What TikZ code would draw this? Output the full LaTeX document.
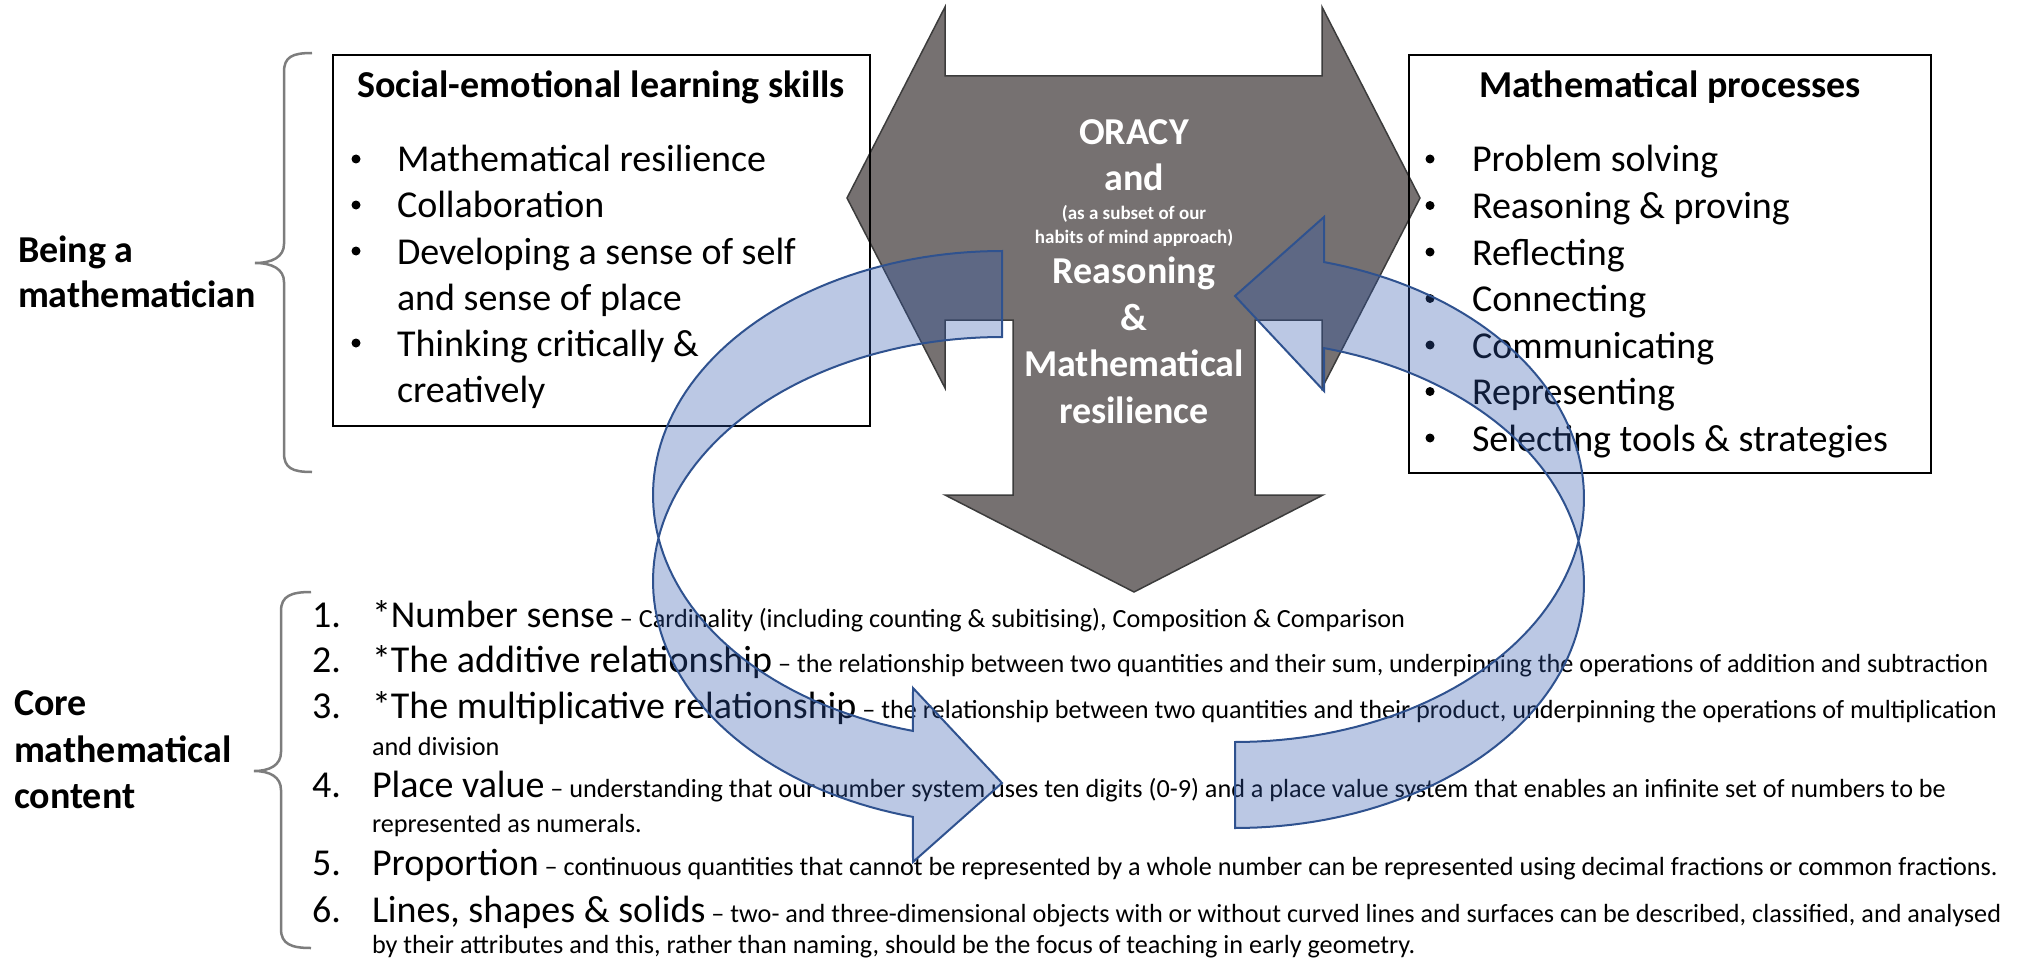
\documentclass[tikz,border=0pt]{standalone}
\usepackage{fontspec}
\setmainfont{Carlito}
\definecolor{arrowgray}{RGB}{118,113,113}
\definecolor{grayedge}{RGB}{60,60,60}
\definecolor{bluefill}{RGB}{48,88,173}
\definecolor{blueline}{RGB}{47,82,143}
\definecolor{bracegray}{RGB}{125,125,125}
\newcommand{\descfont}{\fontsize{26.2}{31}\selectfont}
\begin{document}
\begin{tikzpicture}[x=1pt,y=-1pt,
  big/.style={inner sep=0pt,outer sep=0pt,anchor=base west,font=\fontsize{38}{46}\selectfont},
  bigb/.style={inner sep=0pt,outer sep=0pt,anchor=base west,font=\fontsize{38}{46}\selectfont\bfseries},
  ttl/.style={inner sep=0pt,outer sep=0pt,anchor=base,font=\fontsize{38}{46}\selectfont\bfseries},
  wbig/.style={inner sep=0pt,outer sep=0pt,anchor=base,text=white,font=\fontsize{38}{46}\selectfont\bfseries},
  wsmall/.style={inner sep=0pt,outer sep=0pt,anchor=base,text=white,font=\fontsize{19}{23}\selectfont\bfseries},
  sm/.style={font=\descfont},
  dot/.style={circle,fill=black,inner sep=0pt,minimum size=9pt},
  grayarrow/.style={fill=arrowgray,draw=grayedge,line width=1.5pt,line join=miter},
  bluearrow/.style={fill=bluefill,fill opacity=0.33,draw=blueline,draw opacity=1,line width=2pt,line join=miter},
  framebox/.style={draw=black,line width=1.8pt,inner sep=0pt,outer sep=0pt,anchor=north west},
  brace/.style={draw=bracegray,line width=2.5pt}]
\useasboundingbox (0,0) rectangle (2017,960);

% central three-way arrow
\path[grayarrow] (847,198) -- (945,7) -- (945,76) -- (1322,76) -- (1322,7) -- (1420,198)
  -- (1322,388) -- (1322,320) -- (1255,320) -- (1255,495) -- (1323,495) -- (1134,592)
  -- (945,495) -- (1013,495) -- (1013,320) -- (945,320) -- (945,388) -- cycle;
\node[wbig] (oracy) at (1134,145) {ORACY};
\node[wbig] (and) at (1134,190) {and};
\node[wsmall] (sub1) at (1134,219) {(as a subset of our};
\node[wsmall] (sub2) at (1134,243) {habits of mind approach)};
\node[wbig] (reas) at (1134,283) {Reasoning};
\node[wbig] (amp) at (1134,330) {\&};
\node[wbig] (math) at (1134,376) {Mathematical};
\node[wbig] (resil) at (1134,423) {resilience};

% boxes
\node[framebox,minimum width=537pt,minimum height=371pt] (selbox) at (333,55) {};
\node[framebox,minimum width=522pt,minimum height=418pt] (procbox) at (1409,55) {};

\node[ttl] (seltitle) at (601,98) {Social-emotional learning skills};
\node[dot] (b1) at (356,159) {};
\node[big] (s1) at (397,172) {Mathematical resilience};
\node[dot] (b2) at (356,205) {};
\node[big] (s2) at (397,218) {Collaboration};
\node[dot] (b3) at (356,251) {};
\node[big] (s3) at (397,264) {Developing a sense of self};
\node[big] (s3b) at (397,310) {and sense of place};
\node[dot] (b4) at (356,343) {};
\node[big] (s4) at (397,356) {Thinking critically \&};
\node[big] (s4b) at (397,402) {creatively};

\node[ttl] (proctitle) at (1670,98) {Mathematical processes};
\node[dot] (p1b) at (1430,159) {};
\node[big] (p1) at (1472,172) {Problem solving};
\node[dot] (p2b) at (1430,205.5) {};
\node[big] (p2) at (1472,218.5) {Reasoning \& proving};
\node[dot] (p3b) at (1430,252) {};
\node[big] (p3) at (1472,265) {Reflecting};
\node[dot] (p4b) at (1430,298.5) {};
\node[big] (p4) at (1472,311.5) {Connecting};
\node[dot] (p5b) at (1430,345) {};
\node[big] (p5) at (1472,358) {Communicating};
\node[dot] (p6b) at (1430,391.5) {};
\node[big] (p6) at (1472,404.5) {Representing};
\node[dot] (p7b) at (1430,438) {};
\node[big] (p7) at (1472,451) {Selecting tools \& strategies};

% braces and labels
\draw[brace] (312,53) .. controls (292,53) and (284,57) .. (284,72) -- (284,244)
  .. controls (284,257) and (272,263) .. (255,263) .. controls (272,263) and (284,269) .. (284,282)
  -- (284,453) .. controls (284,468) and (292,472) .. (312,472);
\node[bigb] (being) at (18,262) {Being a};
\node[bigb] (mathn) at (18,307) {mathematician};

\draw[brace] (311,592) .. controls (291,592) and (281,596) .. (281,611) -- (281,752)
  .. controls (281,765) and (270,771) .. (254,771) .. controls (270,771) and (281,777) .. (281,790)
  -- (281,929) .. controls (281,944) and (291,948) .. (311,948);
\node[bigb] (core) at (14,715) {Core};
\node[bigb] (mathl) at (14,762) {mathematical};
\node[bigb] (content) at (14,808) {content};

% numbered list
\node[big] (n1) at (312,627) {1.};
\node[big] (i1) at (372,627) {*Number sense\descfont{} – Cardinality (including counting \& subitising), Composition \& Comparison};
\node[big] (n2) at (312,672) {2.};
\node[big] (i2) at (372,672) {*The additive relationship\descfont{} – the relationship between two quantities and their sum, underpinning the operations of addition and subtraction};
\node[big] (n3) at (312,718) {3.};
\node[big] (i3) at (372,718) {*The multiplicative relationship\descfont{} – the relationship between two quantities and their product, underpinning the operations of multiplication};
\node[big,sm] (i3b) at (372,755) {and division};
\node[big] (n4) at (312,797) {4.};
\node[big] (i4) at (372,797) {Place value\descfont{} – understanding that our number system uses ten digits (0-9) and a place value system that enables an infinite set of numbers to be};
\node[big,sm] (i4b) at (372,832) {represented as numerals.};
\node[big] (n5) at (312,875) {5.};
\node[big] (i5) at (372,875) {Proportion\descfont{} – continuous quantities that cannot be represented by a whole number can be represented using decimal fractions or common fractions.};
\node[big] (n6) at (312,922) {6.};
\node[big] (i6) at (372,922) {Lines, shapes \& solids\descfont{} – two- and three-dimensional objects with or without curved lines and surfaces can be described, classified, and analysed};
\node[big,sm] (i6b) at (372,953) {by their attributes and this, rather than naming, should be the focus of teaching in early geometry.};

% curved blue arrows
\path[bluearrow] plot[domain=270:104.8,samples=90] ({1002+349*cos(\x)},{495+244*sin(\x)})
  -- (913,688) -- (1002,783) -- (913,862)
  -- plot[domain=104.8:270,samples=90] ({1002+349*cos(\x)},{581+244*sin(\x)}) -- cycle;
\begin{scope}[rotate around={180:(1118.5,539.5)}]
\path[bluearrow] plot[domain=270:104.8,samples=90] ({1002+349*cos(\x)},{495+244*sin(\x)})
  -- (913,688) -- (1002,783) -- (913,862)
  -- plot[domain=104.8:270,samples=90] ({1002+349*cos(\x)},{581+244*sin(\x)}) -- cycle;
\end{scope}
\end{tikzpicture}
\end{document}
